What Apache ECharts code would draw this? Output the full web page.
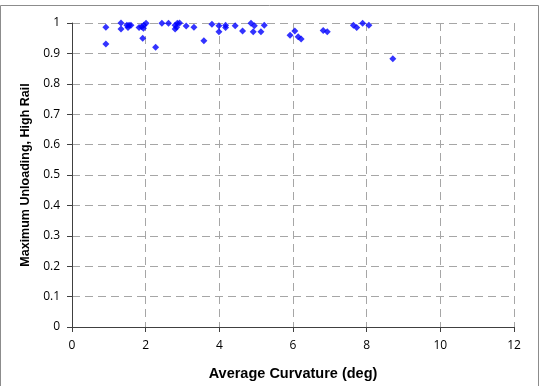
<!DOCTYPE html>
<html lang="en">
<head>
    <meta charset="UTF-8">
    <title>Maximum Unloading vs Average Curvature</title>
    <script src="https://cdn.jsdelivr.net/npm/echarts@6/dist/echarts.min.js"></script>
    <style>
        html, body { margin: 0; padding: 0; background: #fff; }
        #fig1 { width: 543px; height: 386px; }
    </style>
</head>
<body>
    <div id="fig1"></div>
    <script>
        // average curvature (deg)
        let curvature = [0.92, 0.92, 1.33, 1.33, 1.49, 1.55, 1.60, 1.52, 1.82, 1.89,
            1.95, 2.01, 1.94, 1.92, 2.27, 2.44, 2.62, 2.80, 2.86, 2.92,
            2.84, 2.80, 3.10, 3.31, 3.58, 3.80, 3.99, 3.99, 4.17, 4.17,
            4.43, 4.63, 4.86, 4.95, 4.92, 5.13, 5.22, 5.92, 6.05, 6.14,
            6.22, 6.82, 6.93, 7.64, 7.73, 7.89, 8.06, 8.71];
        // maximum unloading, high rail
        let unloading = [0.986, 0.931, 1.0, 0.980, 0.993, 0.993, 0.993, 0.985, 0.985, 0.988,
            0.993, 0.999, 0.983, 0.950, 0.920, 0.999, 0.999, 0.993, 0.999, 1.0,
            0.986, 0.980, 0.990, 0.986, 0.942, 0.996, 0.991, 0.971, 0.993, 0.985,
            0.991, 0.974, 0.999, 0.991, 0.971, 0.971, 0.993, 0.960, 0.974, 0.955,
            0.947, 0.975, 0.971, 0.993, 0.985, 0.999, 0.993, 0.882];

        let points = curvature.map((x, i) => [x, unloading[i]]);

        let fig1 = echarts.init(document.getElementById('fig1'), null, {renderer: 'canvas'});

        // dashed grey grid lines as in the original spreadsheet chart
        let gridLine = {
            show: true,
            lineStyle: { color: '#a6a6a6', type: [8, 5], width: 1 }
        };

        let option = {
            animation: false,
            backgroundColor: '#fff',
            graphic: [{
                type: 'rect',
                shape: { x: 0.5, y: 5.5, width: 538, height: 400 },
                style: { fill: 'none', stroke: '#8c8c8c', lineWidth: 1 },
                silent: true
            }],
            grid: { left: 72, right: 29, top: 23, bottom: 58 },
            xAxis: {
                type: 'value',
                min: 0,
                max: 12,
                interval: 2,
                name: 'Average Curvature (deg)',
                nameLocation: 'center',
                nameGap: 39,
                nameTextStyle: { fontFamily: 'Liberation Sans', fontWeight: 'bold', fontSize: 14.5, color: '#000' },
                axisLine: { show: true, lineStyle: { color: '#404040', width: 1 } },
                axisTick: { show: true, length: 5, lineStyle: { color: '#404040' } },
                axisLabel: { fontFamily: 'Open Sans', fontSize: 12, color: '#000', margin: 13 },
                splitLine: gridLine
            },
            yAxis: {
                type: 'value',
                min: 0,
                max: 1,
                interval: 0.1,
                name: 'Maximum Unloading, High Rail',
                nameLocation: 'center',
                nameGap: 33,
                nameTextStyle: { fontFamily: 'Liberation Sans', fontWeight: 'bold', fontSize: 12.5, color: '#000' },
                axisLine: { show: true, lineStyle: { color: '#404040', width: 1 } },
                axisTick: { show: true, length: 5, lineStyle: { color: '#404040' } },
                axisLabel: { fontFamily: 'Open Sans', fontSize: 12, color: '#000', margin: 12 },
                splitLine: gridLine
            },
            series: [{
                type: 'scatter',
                symbol: 'diamond',
                symbolSize: 7,
                itemStyle: { color: '#0000ff' },
                data: points
            }]
        };

        fig1.setOption(option);
    </script>
</body>
</html>
